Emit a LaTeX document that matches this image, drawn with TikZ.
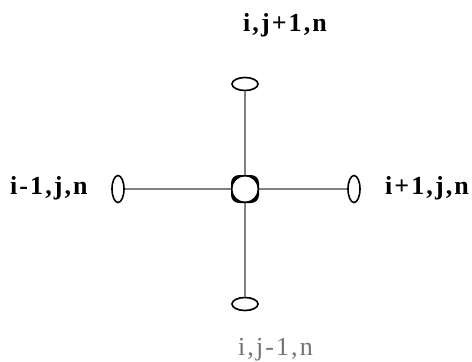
\documentclass[tikz,border=0pt]{standalone}
\usepackage{fontspec}
\setmainfont{Liberation Serif}
\newfontfamily\labfont[LetterSpace=8]{Liberation Serif}
\usetikzlibrary{shapes.geometric}
\definecolor{linegray}{gray}{0.5}
\definecolor{labgray}{gray}{0.45}
\tikzset{
  ellh/.style={ellipse, draw=black, line width=1.6pt, fill=white, minimum width=26pt, minimum height=13pt, inner sep=0pt},
  ellv/.style={ellipse, draw=black, line width=1.6pt, fill=white, minimum width=12pt, minimum height=27pt, inner sep=0pt},
  hub/.style={circle, minimum size=25pt, inner sep=0pt},
  conn/.style={draw=linegray, line width=1.4pt},
  lab/.style={font=\labfont\bfseries\fontsize{26}{30}\selectfont, inner sep=0pt, anchor=base west}
}
\begin{document}
\begin{tikzpicture}[x=1pt,y=-1pt]
\useasboundingbox (0,0) rectangle (472,362);
% nodes
\node[hub] (c) at (245,189) {};
\node[ellh] (t) at (245,84) {};
\node[ellh] (b) at (245,304) {};
\node[ellv] (l) at (118,189) {};
\node[ellv] (r) at (354,189) {};
% connectors
\draw[conn] (t) -- (c);
\draw[conn] (c) -- (b);
\draw[conn] (l) -- (c);
\draw[conn] (c) -- (r);
% hub drawing
\fill[black, even odd rule, rounded corners=8pt] (c.center) ++(-14,-14) rectangle ++(28,28);
\fill[white] (c.center) circle[radius=12.5pt];
% labels
\node[lab] (lt) at (243,31) {i,j+1,n};
\node[lab] (ll) at (10,194) {i-1,j,n};
\node[lab] (lr) at (385,194) {i+1,j,n};
\node[lab, text=labgray, font=\labfont\fontsize{26}{30}\selectfont] (lb) at (238,355) {i,j-1,n};
\end{tikzpicture}
\end{document}
